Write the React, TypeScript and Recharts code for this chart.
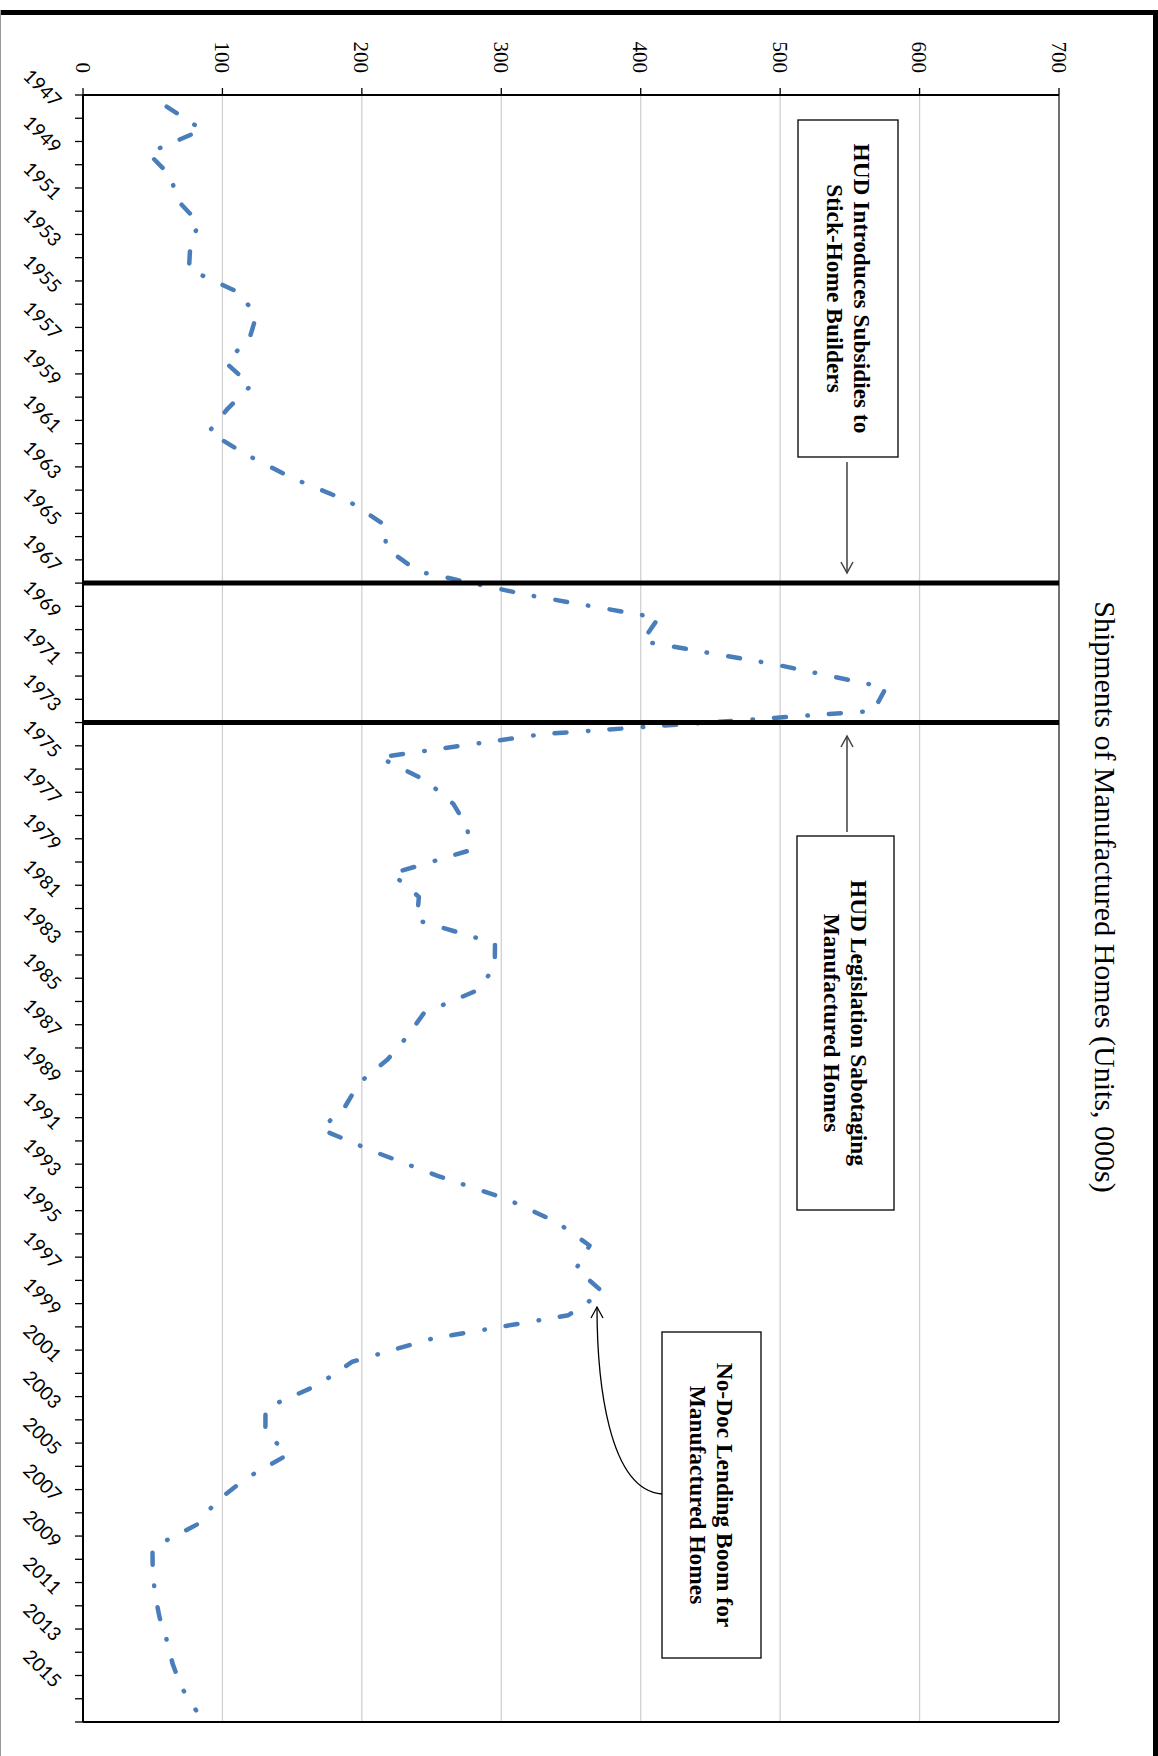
import React from "react";
import {
  LineChart,
  Line,
  XAxis,
  YAxis,
  CartesianGrid,
  ReferenceLine,
} from "recharts";

// chart is drawn landscape and then turned 90deg clockwise, like the source image
const years = [
  1947, 1948, 1949, 1950, 1951, 1952, 1953, 1954, 1955, 1956, 1957, 1958, 1959,
  1960, 1961, 1962, 1963, 1964, 1965, 1966, 1967, 1968, 1969, 1970, 1971, 1972,
  1973, 1974, 1975, 1976, 1977, 1978, 1979, 1980, 1981, 1982, 1983, 1984, 1985,
  1986, 1987, 1988, 1989, 1990, 1991, 1992, 1993, 1994, 1995, 1996, 1997, 1998,
  1999, 2000, 2001, 2002, 2003, 2004, 2005, 2006, 2007, 2008, 2009, 2010, 2011,
  2012, 2013, 2014, 2015, 2016,
];

// units, thousands
const shipments = [
  60.0, 85.5, 46.7, 63.1, 67.3, 83.0, 76.9, 76.0, 111.9, 124.3, 119.3, 102.1,
  120.5, 103.7, 90.2, 118.0, 150.8, 191.3, 216.5, 217.3, 240.4, 317.9, 412.7,
  401.2, 496.6, 575.9, 566.9, 329.3, 212.7, 246.1, 265.6, 275.6, 277.4, 221.6,
  240.9, 239.5, 295.5, 295.3, 283.5, 244.5, 232.6, 218.4, 198.1, 188.2, 170.7,
  210.5, 254.3, 303.9, 339.9, 363.3, 353.7, 372.8, 348.1, 250.6, 193.2, 168.5,
  130.9, 130.8, 146.9, 117.4, 95.8, 81.9, 49.8, 50.0, 51.6, 54.9, 60.2, 64.3,
  70.5, 81.1,
];

const yearLabels = [
  1947, 1949, 1951, 1953, 1955, 1957, 1959, 1961, 1963, 1965, 1967, 1969, 1971,
  1973, 1975, 1977, 1979, 1981, 1983, 1985, 1987, 1989, 1991, 1993, 1995, 1997,
  1999, 2001, 2003, 2005, 2007, 2009, 2011, 2013, 2015,
];

const valueTicks = [0, 100, 200, 300, 400, 500, 600, 700];

// thick bars drawn just before these years
const eventYears = [1968, 1974];

const data = years.map((year, i) => ({ year, shipments: shipments[i] }));

const W = 1756;
const H = 1158;
const MARGIN = { top: 99, right: 34, bottom: 0, left: 0 };
const Y_AXIS_W = 95;
const X_AXIS_H = 83;
const HALF_STEP = (W - Y_AXIS_W - MARGIN.right) / years.length / 2;

const boundaryTicks = [
  ...years.map((y) => y - 0.5),
  years[years.length - 1] + 0.5,
];

function YearTick(props: any) {
  const { x, y, payload } = props;
  const year = payload.value + 0.5;
  if (!yearLabels.includes(year)) return <g />;
  return (
    <g transform={`translate(${x + HALF_STEP - 3},${y + 15})`}>
      <text
        x={0}
        y={0}
        dy="0.35em"
        textAnchor="end"
        transform="rotate(-45)"
        fontFamily="Lato"
        fontSize={19}
        fill="#000"
      >
        {year}
      </text>
    </g>
  );
}

function Arrow({ x1, x2, y }: { x1: number; x2: number; y: number }) {
  const d = x2 > x1 ? -1 : 1;
  return (
    <g stroke="#404040" strokeWidth={1.5} fill="none">
      <line x1={x1} y1={y} x2={x2} y2={y} />
      <polyline
        points={`${x2 + d * 11},${y - 6} ${x2},${y} ${x2 + d * 11},${y + 6}`}
      />
    </g>
  );
}

function NoteBox(props: {
  x: number;
  y: number;
  w: number;
  h: number;
  lines: string[];
  base: number;
}) {
  const { x, y, w, h, lines, base } = props;
  return (
    <g>
      <rect x={x} y={y} width={w} height={h} fill="#fff" stroke="#000" strokeWidth={1.3} />
      {lines.map((t, i) => (
        <text
          key={t}
          x={x + w / 2}
          y={base + i * 27}
          textAnchor="middle"
          fontFamily="Liberation Serif"
          fontWeight="bold"
          fontSize={23.4}
          fill="#000"
        >
          {t}
        </text>
      ))}
    </g>
  );
}

const Overlay = () => (
  <svg
    width={W}
    height={H}
    style={{ position: "absolute", left: 0, top: 0, pointerEvents: "none" }}
  >
    <rect x={10} y={0} width={5} height={H} fill="#000" />
    <rect x={10} y={0} width={W - 10} height={5} fill="#000" />
    <line x1={10} y1={H - 0.5} x2={W} y2={H - 0.5} stroke="#999" />

    <text
      x={897}
      y={63}
      textAnchor="middle"
      fontFamily="Liberation Serif"
      fontSize={30}
      fill="#000"
    >
      Shipments of Manufactured Homes (Units, 000s)
    </text>

    <NoteBox
      x={120}
      y={260}
      w={337}
      h={100}
      base={304}
      lines={["HUD Introduces Subsidies to", "Stick-Home Builders"]}
    />
    <Arrow x1={462} x2={573} y={311} />

    <NoteBox
      x={836}
      y={264}
      w={374}
      h={97}
      base={307}
      lines={["HUD Legislation Sabotaging", "Manufactured Homes"]}
    />
    <Arrow x1={832} x2={736} y={311} />

    <NoteBox
      x={1332}
      y={397}
      w={326}
      h={99}
      base={441}
      lines={["No-Doc Lending Boom for", "Manufactured Homes"]}
    />
    <g stroke="#000" strokeWidth={1.3} fill="none">
      <path d="M 1494 496 C 1490 550, 1380 561, 1307 561" />
      <polyline points="1318,555 1307,561 1318,567" />
    </g>
  </svg>
);

export default function App() {
  return (
    <div
      style={{
        position: "absolute",
        left: 0,
        top: 0,
        width: H,
        height: W,
        overflow: "hidden",
        background: "#fff",
      }}
    >
      <div
        style={{
          position: "absolute",
          left: 0,
          top: 0,
          width: W,
          height: H,
          transformOrigin: "0 0",
          transform: `translate(${H}px, 0) rotate(90deg)`,
        }}
      >
        <LineChart width={W} height={H} data={data} margin={MARGIN}>
          <CartesianGrid vertical={false} stroke="#d0d0d0" strokeWidth={1.3} />
          <XAxis
            dataKey="year"
            type="number"
            domain={[boundaryTicks[0], boundaryTicks[boundaryTicks.length - 1]]}
            ticks={boundaryTicks}
            interval={0}
            height={X_AXIS_H}
            tickSize={8}
            axisLine={{ stroke: "#000", strokeWidth: 2 }}
            tickLine={{ stroke: "#000", strokeWidth: 1.3 }}
            tick={<YearTick />}
          />
          <YAxis
            domain={[0, 700]}
            ticks={valueTicks}
            interval={0}
            width={Y_AXIS_W}
            tickSize={7}
            tickMargin={15}
            axisLine={{ stroke: "#000", strokeWidth: 2 }}
            tickLine={{ stroke: "#000", strokeWidth: 1.3 }}
            tick={{ fontFamily: "Liberation Serif", fontSize: 21, fill: "#000" }}
          />
          <ReferenceLine y={700} stroke="#000" strokeWidth={1} />
          <ReferenceLine
            x={boundaryTicks[boundaryTicks.length - 1]}
            stroke="#000"
            strokeWidth={2}
          />
          <Line
            dataKey="shipments"
            type="linear"
            stroke="#4a7ebb"
            strokeWidth={4.5}
            strokeDasharray="12 21 0.5 21.5"
            strokeLinecap="round"
            strokeLinejoin="round"
            dot={false}
            activeDot={false}
            isAnimationActive={false}
          />
          {eventYears.map((y) => (
            <ReferenceLine key={y} x={y - 0.5} stroke="#000" strokeWidth={5} />
          ))}
        </LineChart>
        <Overlay />
      </div>
    </div>
  );
}
